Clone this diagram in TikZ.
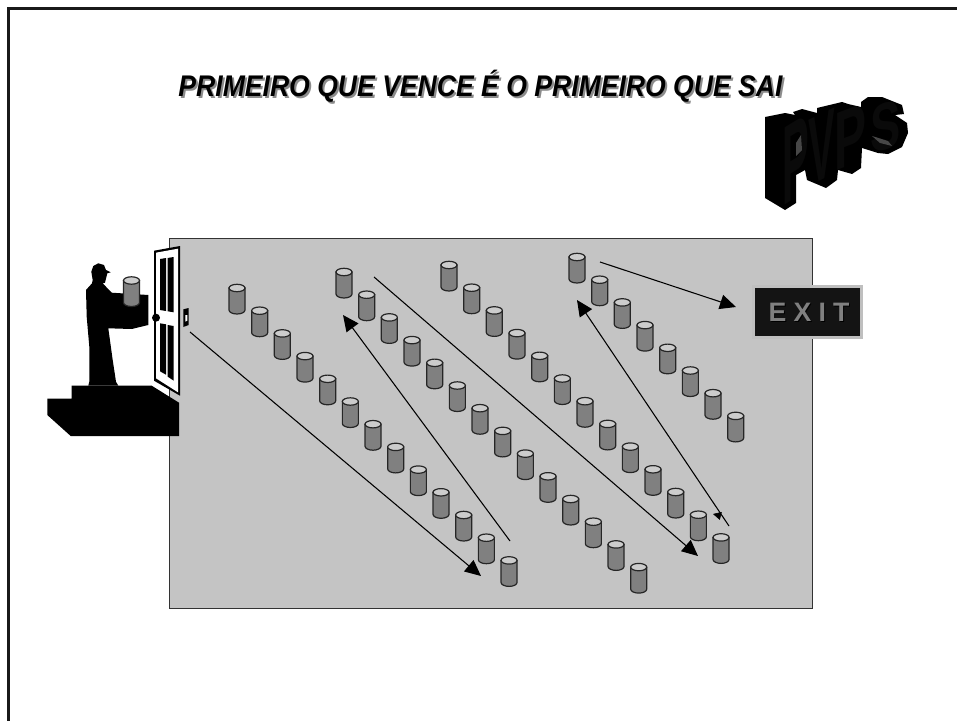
\documentclass[tikz,border=0pt]{standalone}
\usepackage{fontspec}
\setmainfont{Liberation Sans}
\newfontfamily\exitfont[LetterSpace=27]{Liberation Sans}
\usetikzlibrary{positioning,arrows.meta}

\begin{document}
\begin{tikzpicture}[
    x=0.75pt, y=-0.75pt,
    drumline/.style={draw=black!85, line width=0.9pt},
    drum/.pic={
        \filldraw[drumline, fill=black!50] (-8,-11) -- (-8,11) arc[x radius=8, y radius=4, start angle=180, end angle=0] -- (8,-11) -- cycle;
        \filldraw[drumline, fill=black!20] (0,-11) ellipse[x radius=8, y radius=3.7];
    },
    arr/.style={-{Triangle[length=12pt,width=11pt]}, line width=0.8pt},
    titlefont/.style={font=\fontsize{22.4}{26}\selectfont\bfseries\itshape, transform shape, xscale=0.89},
    letter/.style={font=\fontsize{100}{100}\selectfont\bfseries, inner sep=0pt, transform shape, text=black!96},
    exitfont/.style={font=\exitfont\fontsize{20}{20}\selectfont\bfseries},
    sil/.style={fill=black, draw=none}
]
\useasboundingbox (0,0) rectangle (957,721);

% Page frame
\draw[line width=2.2pt, black!90] (8.5,721) -- (8.5,8.5) -- (957,8.5);

% Title
\node[titlefont, text=black!45] (titleshadow) at (482.5,88) {PRIMEIRO QUE VENCE É O PRIMEIRO QUE SAI};
\node[titlefont] (title) at (480.5,86) {PRIMEIRO QUE VENCE É O PRIMEIRO QUE SAI};

% Floor
\draw[fill=black!23, draw=black!80, line width=0.7pt] (169,238) rectangle (812,608);

% PVPS block: solid body, then the letter faces
\fill[sil] (765,117) -- (785,113) -- (795,115) -- (793,112) -- (802,109) -- (817,113) -- (817,108)
    -- (842,102) -- (848,104) -- (861,107) -- (861,102) -- (868,97) -- (882,97) -- (902,105) -- (904,114)
    -- (895,115) -- (907,123) -- (908,133) -- (902,147) -- (888,154) -- (878,153) -- (862,148) -- (861,168)
    -- (852,174) -- (838,170) -- (837,180) -- (826,188) -- (807,180) -- (805,170) -- (796,175)
    -- (796,203) -- (785,210) -- (765,198) -- cycle;
\node[letter, xscale=0.30, yscale=0.84, yslant=0.22] (letterPa) at (796,160) {P};
\node[letter, xscale=0.30, yscale=0.72, yslant=0.20] (letterV) at (822,147) {V};
\node[letter, xscale=0.36, yscale=0.62, yslant=0.22] (letterPb) at (850,137) {P};
\node[letter, xscale=0.34, yscale=0.50, yslant=0.18] (letterS) at (886,127) {S};
\fill[black!72] (796,143) -- (801,135) -- (802,150) -- (796,156) -- cycle;
\fill[black!72] (872,136) -- (888,141) -- (892,146) -- (880,143) -- cycle;

% Exit plate
\node[draw=black!25, line width=2pt, fill=black!92, minimum width=81pt, minimum height=38.5pt, inner sep=0pt] (exit) at (807.5,312) {};
\node[text=black, exitfont] (exitshadow) at (810,313) {EXIT};
\node[text=black!50, exitfont] (exitlabel) at (809,312) {EXIT};

% Steps
\fill[sil] (47.3,398.7) -- (71.7,398.7) -- (71.7,385.7) -- (151.7,385.7) -- (179,402.7) -- (179,436) -- (70.7,436) -- (47.3,415) -- cycle;

% Door with its panels, knob and switch
\fill[sil] (154,250.7) -- (180,246) -- (180,395.7) -- (154,380.7) -- cycle;
\fill[white] (156,252.7) -- (178,248.7) -- (178,392.3) -- (156,378.3) -- cycle;
\fill[sil] (160,259) -- (166,258) -- (166,311) -- (160,310) -- cycle;
\fill[sil] (167.7,258) -- (173.7,257) -- (173.7,312.3) -- (167.7,311.3) -- cycle;
\fill[sil] (160,323.3) -- (166,324.3) -- (166,374.7) -- (160,371.3) -- cycle;
\fill[sil] (167.7,325) -- (173.7,326) -- (173.7,380.7) -- (167.7,376.7) -- cycle;
\fill[sil] (156,317.7) circle (4);
\fill[sil] (183.3,309.3) -- (188.7,308) -- (188.7,325) -- (183.3,327) -- cycle;
\fill[white] (185.3,315) -- (187.3,315) -- (187.3,320.7) -- (185.3,321.7) -- cycle;

% Man carrying a box
\fill[sil] (92,283.3) -- (86,290) -- (86.7,316.7) -- (89.3,346.7) -- (89.3,381.7) -- (88.3,385.7) -- (118.3,385.7)
    -- (116,381.7) -- (112.7,360) -- (108.3,328.3) -- (131.7,329) -- (148.3,325) -- (148.3,295) -- (111.7,292.7)
    -- (102.7,283.3) -- (105,282.7) -- (107.3,273.3) -- (110.7,272.3) -- (106,270) -- (104,265) -- (98.3,263.3)
    -- (93.3,266) -- (91.3,271.7) -- (92.7,280) -- cycle;
\pic (carried) at (131.5,291.5) {drum};

% Rows of drums
\foreach \row/\xs/\ys/\n in {a/237/299/12, b/344/283/13, c/449/276/12, d/577/268/7} {
    \foreach \i in {0,...,\n} {
        \pic (drum\row\i) at ({\xs+\i*22.67},{\ys+\i*22.7}) {drum};
    }
}

% Route ends
\coordinate (startA) at (190,332);
\coordinate (endA) at (481,576);
\coordinate (startB) at (510,541);
\coordinate (endB) at (343,315);
\coordinate (startC) at (374,277);
\coordinate (endC) at (698,556);
\coordinate (startD) at (729,526);
\coordinate (endD) at (577,300);
\coordinate (startE) at (600,262);
\coordinate (endE) at (736,307);
\coordinate (startF) at (721,516);
\coordinate (endF) at (713,514);

% Route
\draw[arr] (startA) -- (endA);
\draw[arr] (startB) -- (endB);
\draw[arr] (startC) -- (endC);
\draw[arr] (startD) -- (endD);
\draw[arr] (startE) -- (endE);
\draw[-{Triangle[length=6pt,width=6pt]}] (startF) -- (endF);
\end{tikzpicture}
\end{document}
